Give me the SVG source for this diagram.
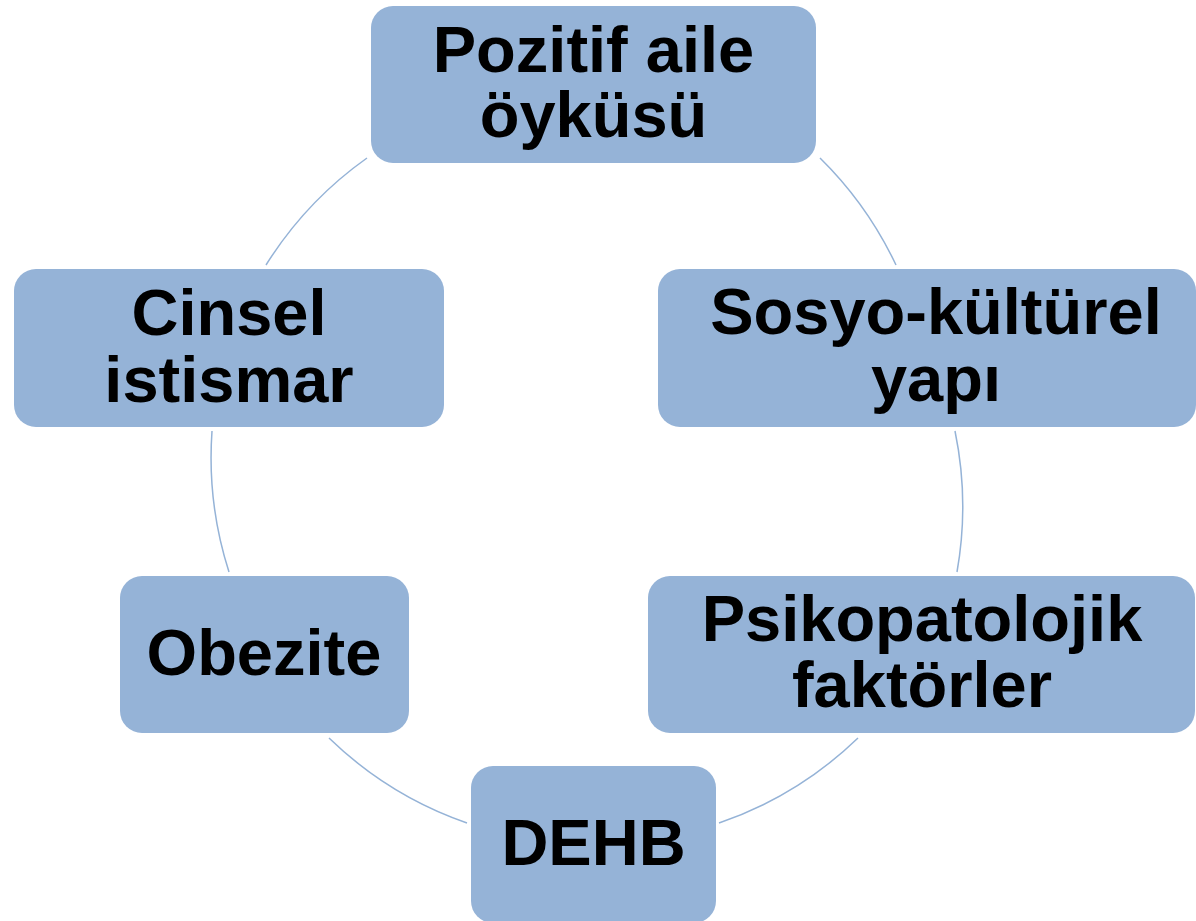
<svg xmlns="http://www.w3.org/2000/svg" width="1196" height="921" viewBox="0 0 1196 921">
<style>
.box{fill:#95B3D7;}
.lbl{font-family:"Liberation Sans",Arial,sans-serif;font-weight:bold;font-size:65px;fill:#000;text-anchor:middle;}
.arc{fill:none;stroke:#95B3D7;stroke-width:1.5;}
</style>
<rect width="1196" height="921" fill="#fff"/>
<g id="connectors">
<path class="arc" d="M266,265 A375,375 0 0 1 367,158"/>
<path class="arc" d="M820,158 A375,375 0 0 1 896,265"/>
<path class="arc" d="M955,431 A375,375 0 0 1 957,572"/>
<path class="arc" d="M858,738 A375,375 0 0 1 719,823"/>
<path class="arc" d="M467,823 A375,375 0 0 1 329,738"/>
<path class="arc" d="M229,572 A375,375 0 0 1 212,431"/>
</g>
<g id="node-pozitif">
<rect class="box" x="371" y="6" width="445" height="157" rx="22"/>
<text class="lbl" x="593.5" y="72">Pozitif aile</text>
<text class="lbl" x="593.5" y="137">öyküsü</text>
</g>
<g id="node-sosyo">
<rect class="box" x="658" y="269" width="538" height="158" rx="22"/>
<text class="lbl" x="936" y="334">Sosyo-kültürel</text>
<text class="lbl" x="936" y="401">yapı</text>
</g>
<g id="node-psiko">
<rect class="box" x="648" y="576" width="547" height="157" rx="22"/>
<text class="lbl" x="922" y="641">Psikopatolojik</text>
<text class="lbl" x="922" y="707">faktörler</text>
</g>
<g id="node-dehb">
<rect class="box" x="471" y="766" width="245" height="157" rx="22"/>
<text class="lbl" x="593.5" y="865">DEHB</text>
</g>
<g id="node-obezite">
<rect class="box" x="120" y="576" width="289" height="157" rx="22"/>
<text class="lbl" x="264" y="675">Obezite</text>
</g>
<g id="node-cinsel">
<rect class="box" x="14" y="269" width="430" height="158" rx="22"/>
<text class="lbl" x="229" y="335">Cinsel</text>
<text class="lbl" x="229" y="402">istismar</text>
</g>
</svg>
